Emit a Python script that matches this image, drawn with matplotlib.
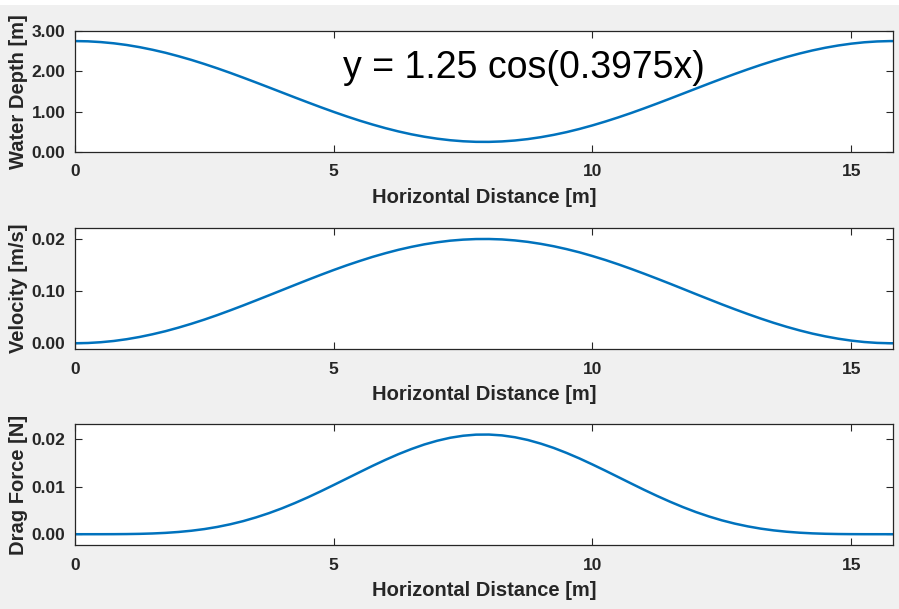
import numpy as np
import matplotlib.pyplot as plt
from matplotlib.patches import Rectangle

plt.rcParams['font.family'] = ['Liberation Sans', 'DejaVu Sans']

# horizontal distance [m]
x = [0, 0.25, 0.5, 0.75, 1.0, 1.25, 1.5, 1.75, 2.0, 2.25, 2.5, 2.75,
     3.0, 3.25, 3.5, 3.75, 4.0, 4.25, 4.5, 4.75, 5.0, 5.25, 5.5, 5.75,
     6.0, 6.25, 6.5, 6.75, 7.0, 7.25, 7.5, 7.75, 8.0, 8.25, 8.5, 8.75,
     9.0, 9.25, 9.5, 9.75, 10.0, 10.25, 10.5, 10.75, 11.0, 11.25, 11.5, 11.75,
     12.0, 12.25, 12.5, 12.75, 13.0, 13.25, 13.5, 13.75, 14.0, 14.25, 14.5, 14.75,
     15.0, 15.25, 15.5, 15.75, 15.8]

# water depth [m]
depth = [2.750, 2.744, 2.725, 2.695, 2.653, 2.599, 2.534, 2.460,
         2.375, 2.283, 2.182, 2.075, 1.962, 1.844, 1.723, 1.600,
         1.476, 1.352, 1.230, 1.110, 0.994, 0.883, 0.778, 0.681,
         0.591, 0.510, 0.439, 0.379, 0.330, 0.292, 0.266, 0.252,
         0.251, 0.262, 0.285, 0.320, 0.367, 0.425, 0.493, 0.572,
         0.660, 0.756, 0.859, 0.968, 1.083, 1.202, 1.324, 1.448,
         1.572, 1.696, 1.817, 1.935, 2.049, 2.158, 2.260, 2.355,
         2.441, 2.518, 2.585, 2.641, 2.686, 2.720, 2.741, 2.750, 2.750]

# velocity [m/s]
velocity = [0.0000, 0.0005, 0.0020, 0.0044, 0.0078, 0.0121, 0.0173, 0.0232,
            0.0300, 0.0374, 0.0454, 0.0540, 0.0631, 0.0725, 0.0822, 0.0920,
            0.1019, 0.1118, 0.1216, 0.1312, 0.1405, 0.1494, 0.1577, 0.1656,
            0.1727, 0.1792, 0.1848, 0.1897, 0.1936, 0.1967, 0.1987, 0.1998,
            0.1999, 0.1991, 0.1972, 0.1944, 0.1906, 0.1860, 0.1805, 0.1743,
            0.1672, 0.1596, 0.1513, 0.1425, 0.1333, 0.1238, 0.1141, 0.1042,
            0.0942, 0.0844, 0.0746, 0.0652, 0.0561, 0.0474, 0.0392, 0.0316,
            0.0247, 0.0185, 0.0132, 0.0087, 0.0051, 0.0024, 0.0007, 0.0000, 0.0000]

# drag force [N]
drag = [0.0, 0.0000001, 0.000002, 0.000010, 0.000032, 0.000077, 0.000157, 0.000283,
        0.000473, 0.000734, 0.001082, 0.001533, 0.002090, 0.002757, 0.003547, 0.004443,
        0.005451, 0.006566, 0.007763, 0.009037, 0.010364, 0.011710, 0.013056, 0.014389,
        0.015658, 0.016853, 0.017929, 0.018887, 0.019677, 0.020302, 0.020728, 0.020960,
        0.020979, 0.020801, 0.020416, 0.019838, 0.019072, 0.018165, 0.017105, 0.015941,
        0.014677, 0.013366, 0.012018, 0.010665, 0.009329, 0.008049, 0.006835, 0.005698,
        0.004659, 0.003736, 0.002922, 0.002230, 0.001652, 0.001177, 0.000807, 0.000524,
        0.000320, 0.000180, 0.000091, 0.000040, 0.000014, 0.000003, 0.0, 0.0, 0.0]

xticks = [0, 5, 10, 15]
xticklabels = ['0', '5', '10', '15']

depth_ticks = [0, 1, 2, 3]
depth_labels = ['0.00', '1.00', '2.00', '3.00']
vel_ticks = [0, 0.1, 0.2]
vel_labels = ['0.00', '0.10', '0.02']
drag_ticks = [0, 0.01, 0.02]
drag_labels = ['0.00', '0.01', '0.02']

equation = 'y = 1.25 cos(0.3975x)'

blue = '#0072BD'
dark = '#262626'

fig = plt.figure(figsize=(8.99, 6.09), dpi=100, facecolor='#f0f0f0')
fig.patches.append(Rectangle((0, 1 - 5/609), 1, 5/609, transform=fig.transFigure,
                             facecolor='white', edgecolor='none', zorder=-1))

left, width, h = 75/899, 818/899, 121/609
panels = [
    (1 - 152/609, depth, (0, 3), depth_ticks, depth_labels, 'Water Depth [m]'),
    (1 - 349/609, velocity, (-0.011, 0.221), vel_ticks, vel_labels, 'Velocity [m/s]'),
    (1 - 545/609, drag, (-0.00227, 0.0232), drag_ticks, drag_labels, 'Drag Force [N]'),
]

axes = []
for bottom, y, ylim, yt, ytl, ylab in panels:
    ax = fig.add_axes([left, bottom, width, h])
    ax.plot(x, y, color=blue, lw=1.8)
    ax.set_xlim(0, 15.807)
    ax.set_ylim(*ylim)
    ax.set_xticks(xticks)
    ax.set_xticklabels(xticklabels)
    ax.set_yticks(yt)
    ax.set_yticklabels(ytl)
    ax.tick_params(direction='in', length=5, width=0.8, color=dark, labelcolor=dark,
                   top=True, right=True, labelsize=12.5)
    ax.tick_params(axis='x', pad=9)
    ax.tick_params(axis='y', pad=7)
    for lbl in ax.get_xticklabels() + ax.get_yticklabels():
        lbl.set_fontweight('bold')
    for s in ax.spines.values():
        s.set_color(dark)
        s.set_linewidth(0.9)
    ax.set_xlabel('Horizontal Distance [m]', fontsize=14.5, fontweight='bold', color=dark)
    ax.xaxis.set_label_coords(0.5, -0.30)
    ax.set_ylabel(ylab, fontsize=14.5, fontweight='bold', color=dark)
    ax.yaxis.set_label_coords(-0.058, 0.5)
    axes.append(ax)

axes[0].text(5.17, 1.84, equation, fontsize=27, color='black', va='baseline')

fig.savefig('out.png', dpi=100, facecolor=fig.get_facecolor())
